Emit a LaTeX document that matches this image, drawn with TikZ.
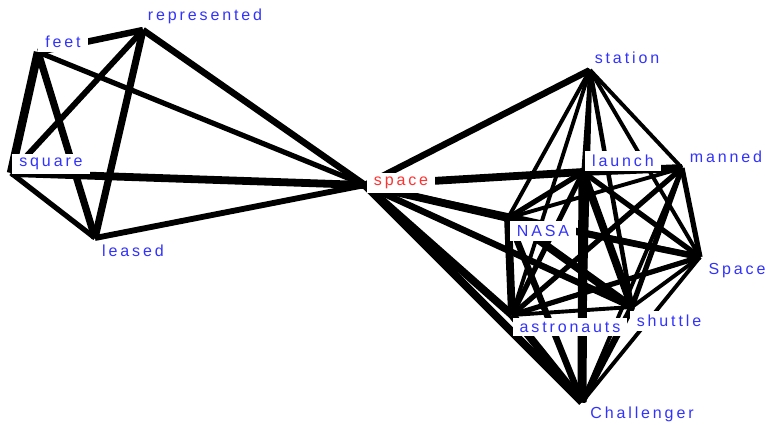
\documentclass[tikz,border=0pt]{standalone}
\usepackage{fontspec}
\newfontfamily\labfont{Liberation Sans}[LetterSpace=18]
\definecolor{lblue}{RGB}{50,50,255}
\definecolor{lred}{RGB}{255,50,50}
\begin{document}
\begin{tikzpicture}[x=1pt,y=-1pt,
  edge/.style={line width=1.3*#1pt,black},
  lab/.style={fill=white,inner xsep=7pt,inner ysep=4pt,text=lblue,font=\labfont\fontsize{16}{18}\selectfont},
  labred/.style={lab,text=lred}]
\useasboundingbox (0,0) rectangle (765,424);
\fill[white] (0,0) rectangle (765,424);
% vertices
\coordinate (feet) at (38,52);
\coordinate (rep) at (143,30);
\coordinate (sq) at (11,173);
\coordinate (lea) at (95,238);
\coordinate (sp) at (365,185);
\coordinate (st) at (590,70);
\coordinate (la) at (583,172);
\coordinate (ma) at (682,168);
\coordinate (na) at (508,218);
\coordinate (Sp) at (700,257);
\coordinate (sh) at (632,307);
\coordinate (as) at (512,315);
\coordinate (ch) at (582,402);
% left cluster
\draw[edge=6.5] (feet) -- (sq);
\draw[edge=5.5] (feet) -- (lea);
\draw[edge=5] (feet) -- (rep);
\draw[edge=4] (feet) -- (sp);
\draw[edge=4.5] (rep) -- (sq);
\draw[edge=5.5] (rep) -- (lea);
\draw[edge=5] (rep) -- (sp);
\draw[edge=4] (sq) -- (lea);
\draw[edge=6] (sq) -- (sp);
\draw[edge=4.5] (lea) -- (sp);
% right cluster
\draw[edge=5] (sp) -- (st);
\draw[edge=6] (sp) -- (la);
\draw[edge=3] (sp) -- (ma);
\draw[edge=6] (sp) -- (na);
\draw[edge=4] (sp) -- (Sp);
\draw[edge=5] (sp) -- (sh);
\draw[edge=6] (sp) -- (as);
\draw[edge=6] (sp) -- (ch);
\draw[edge=2.5] (st) -- (la);
\draw[edge=3] (st) -- (ma);
\draw[edge=3] (st) -- (na);
\draw[edge=3] (st) -- (Sp);
\draw[edge=3.5] (st) -- (sh);
\draw[edge=3] (st) -- (as);
\draw[edge=3.5] (st) -- (ch);
\draw[edge=6] (la) -- (ma);
\draw[edge=4] (la) -- (na);
\draw[edge=4] (la) -- (Sp);
\draw[edge=6] (la) -- (sh);
\draw[edge=4] (la) -- (as);
\draw[edge=7] (la) -- (ch);
\draw[edge=3] (ma) -- (na);
\draw[edge=4] (ma) -- (Sp);
\draw[edge=4] (ma) -- (sh);
\draw[edge=4] (ma) -- (as);
\draw[edge=3] (ma) -- (ch);
\draw[edge=5] (na) -- (Sp);
\draw[edge=6] (na) -- (sh);
\draw[edge=6] (na) -- (as);
\draw[edge=5] (na) -- (ch);
\draw[edge=3] (Sp) -- (sh);
\draw[edge=4] (Sp) -- (as);
\draw[edge=3] (Sp) -- (ch);
\draw[edge=3] (sh) -- (as);
\draw[edge=5] (sh) -- (ch);
\draw[edge=6] (as) -- (ch);
% labels
\node[lab] (feetL) at (63,42) {feet};
\node[lab] (repL) at (205,16) {represented};
\node[lab] (sqL) at (51,164) {square};
\node[lab] (leaL) at (133,251) {leased};
\node[labred] (spL) at (401,183) {space};
\node[lab] (stL) at (627,58) {station};
\node[lab] (laL) at (623,161) {launch};
\node[lab] (maL) at (726,157) {manned};
\node[lab] (naL) at (543,231) {NASA};
\node[lab] (SpL) at (737,271) {Space};
\node[lab] (shL) at (669,321) {shuttle};
\node[lab] (asL) at (570,327) {astronauts};
\node[lab] (chL) at (642,414) {Challenger};
\end{tikzpicture}
\end{document}
